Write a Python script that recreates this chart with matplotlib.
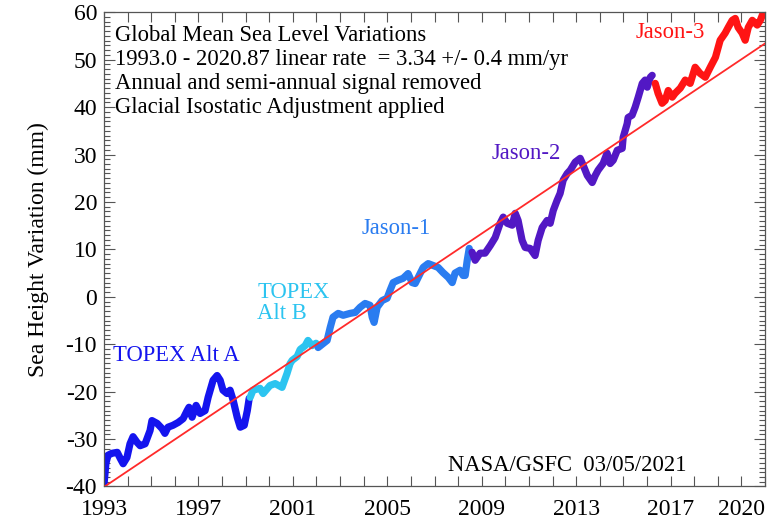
"""Global mean sea level variations by altimetry mission."""

import matplotlib.pyplot as plt
from matplotlib.ticker import MultipleLocator

plt.rcParams["font.family"] = ["Liberation Serif", "DejaVu Serif"]
plt.rcParams["axes.unicode_minus"] = False

# decimal year / sea height (mm) per mission
topex_a_t = [1993.00, 1993.08, 1993.17, 1993.34, 1993.56, 1993.69, 1993.81, 1993.97,
             1994.10, 1994.23, 1994.40, 1994.53, 1994.74, 1994.95, 1995.03, 1995.25,
             1995.46, 1995.58, 1995.71, 1995.92, 1996.14, 1996.35, 1996.52, 1996.60,
             1996.73, 1996.90, 1997.07, 1997.28, 1997.41, 1997.62, 1997.79, 1997.92,
             1998.04, 1998.21, 1998.34, 1998.47, 1998.64, 1998.77, 1998.94, 1999.07,
             1999.15]
topex_a_h = [-39.5, -35.1, -33.4, -33.0, -32.8, -34.1, -35.2, -33.9,
             -31.0, -29.5, -30.7, -31.4, -31.0, -28.2, -26.1, -26.7,
             -27.8, -28.8, -27.5, -27.1, -26.5, -25.7, -24.0, -23.3,
             -25.4, -22.9, -24.6, -24.0, -21.2, -17.6, -16.6, -17.6,
             -19.7, -20.4, -19.7, -21.8, -25.4, -27.5, -27.1, -24.0,
             -21.4]

topex_b_t = [1999.19, 1999.31, 1999.61, 1999.74, 2000.03, 2000.25, 2000.54, 2000.75,
             2000.88, 2000.97, 2001.18, 2001.31, 2001.52, 2001.64, 2001.81, 2001.98]
topex_b_h = [-21.2, -19.7, -19.3, -20.4, -18.7, -18.3, -19.1, -16.2,
             -14.1, -13.4, -12.6, -11.1, -10.3, -9.2, -10.3, -9.8]

jason1_t = [2002.07, 2002.45, 2002.58, 2002.70, 2002.92, 2003.13, 2003.42, 2003.64,
            2003.85, 2004.06, 2004.27, 2004.36, 2004.44, 2004.57, 2004.78, 2004.99,
            2005.12, 2005.25, 2005.46, 2005.67, 2005.88, 2006.05, 2006.18, 2006.39,
            2006.52, 2006.73, 2006.94, 2007.15, 2007.36, 2007.58, 2007.75, 2007.87,
            2008.08, 2008.21, 2008.30, 2008.38, 2008.47]
jason1_h = [-10.7, -9.2, -6.5, -4.3, -3.5, -3.9, -3.5, -3.3,
            -2.2, -1.4, -1.8, -4.3, -5.4, -2.2, -0.8, -0.3,
            1.4, 3.0, 3.5, 3.9, 4.9, 3.0, 2.8, 4.9,
            6.2, 7.0, 6.6, 6.2, 5.1, 4.1, 3.0, 5.0,
            5.6, 4.5, 4.5, 7.5, 10.2]

jason2_t = [2008.59, 2008.72, 2008.93, 2009.14, 2009.36, 2009.57, 2009.78, 2009.91,
            2010.08, 2010.29, 2010.42, 2010.54, 2010.71, 2010.84, 2011.05, 2011.26,
            2011.39, 2011.56, 2011.77, 2011.90, 2012.03, 2012.19, 2012.32, 2012.45,
            2012.62, 2012.75, 2012.96, 2013.17, 2013.30, 2013.47, 2013.68, 2013.81,
            2013.93, 2014.14, 2014.31, 2014.44, 2014.57, 2014.74, 2014.95, 2014.99,
            2015.16, 2015.20, 2015.37, 2015.50, 2015.63, 2015.80, 2015.92, 2016.01,
            2016.14, 2016.22]
jason2_h = [9.4, 7.7, 9.2, 9.2, 10.8, 12.5, 15.5, 16.8,
            15.5, 15.1, 17.6, 16.1, 11.9, 10.4, 10.2, 8.7,
            11.9, 14.6, 16.1, 15.5, 18.2, 20.3, 21.8, 24.6,
            26.0, 26.7, 28.4, 29.2, 27.7, 25.6, 24.1, 25.6,
            26.7, 28.1, 30.3, 28.1, 28.8, 30.9, 31.3, 33.6,
            36.5, 37.8, 38.3, 40.0, 42.1, 45.0, 45.7, 44.2,
            46.3, 46.7]

jason3_t = [2016.35, 2016.47, 2016.64, 2016.77, 2016.90, 2017.07, 2017.19, 2017.41,
            2017.62, 2017.83, 2018.04, 2018.25, 2018.47, 2018.68, 2018.90, 2019.10,
            2019.31, 2019.44, 2019.61, 2019.74, 2019.86, 2020.03, 2020.16, 2020.29,
            2020.46, 2020.67, 2020.80, 2020.92]
jason3_h = [45.0, 42.9, 40.8, 41.4, 43.5, 42.1, 42.9, 44.0,
            45.7, 45.0, 48.4, 47.1, 46.3, 48.4, 50.5, 54.1,
            55.6, 56.8, 58.3, 58.7, 56.8, 55.6, 54.1, 56.8,
            58.3, 57.3, 58.3, 59.8]

trend_start, trend_end = 1993.0, 2021.0
trend_rate = 3.34   # mm/yr
trend_offset = -40.1

year_labels = [1993, 1997, 2001, 2005, 2009, 2013, 2017, 2020]

missions = [
    (topex_a_t, topex_a_h, "#1414ee"),
    (topex_b_t, topex_b_h, "#2cc4f0"),
    (jason1_t, jason1_h, "#2a7cf0"),
    (jason2_t, jason2_h, "#5218c4"),
    (jason3_t, jason3_h, "#ff1414"),
]

fig = plt.figure(figsize=(7.74, 5.24), dpi=100)
ax = fig.add_axes([0.1344, 0.0716, 0.854, 0.905])

for t, h, color in missions:
    ax.plot(t, h, color=color, linewidth=5.2, solid_capstyle="round",
            solid_joinstyle="round", zorder=2)

trend_x = [trend_start, trend_end]
trend_y = [trend_offset, trend_offset + trend_rate * (trend_end - trend_start)]
ax.plot(trend_x, trend_y, color="#ff2a2a", linewidth=1.3, zorder=3)

ax.set_xlim(1993, 2021)
ax.set_ylim(-40, 60)
ax.set_xticks(year_labels)
ax.set_xticklabels([str(y) for y in year_labels])
ax.xaxis.set_minor_locator(MultipleLocator(1))
ax.yaxis.set_major_locator(MultipleLocator(10))
ax.yaxis.set_minor_locator(MultipleLocator(1))
ax.tick_params(which="both", direction="in", top=True, right=True,
               color="#555555", width=0.8, labelsize=17)
ax.tick_params(axis="x", which="both", length=7, pad=9)
ax.tick_params(axis="y", which="major", length=8, pad=5)
ax.tick_params(axis="y", which="minor", length=4)
for spine in ax.spines.values():
    spine.set_color("#555555")
    spine.set_linewidth(0.9)

ax.set_ylabel("Sea Height Variation (mm)", fontsize=17, labelpad=12)

header = ["Global Mean Sea Level Variations",
          "1993.0 - 2020.87 linear rate  = 3.34 +/- 0.4 mm/yr",
          "Annual and semi-annual signal removed",
          "Glacial Isostatic Adjustment applied"]
for i, line in enumerate(header):
    ax.text(1993.45, 55 - 5 * i, line, fontsize=16.3, va="center", ha="left")

ax.text(1993.4, -12.4, "TOPEX Alt A", color="#1414ee", fontsize=16.3, va="center")
ax.text(1999.5, -1.3, "TOPEX\nAlt B", color="#2cc4f0", fontsize=16.3, va="center",
        linespacing=0.95)
ax.text(2003.9, 14.4, "Jason-1", color="#2a7cf0", fontsize=16.3, va="center")
ax.text(2009.4, 30.3, "Jason-2", color="#5218c4", fontsize=16.3, va="center")
ax.text(2015.5, 55.8, "Jason-3", color="#ff1414", fontsize=16.3, va="center")
ax.text(2007.55, -35.6, "NASA/GSFC  03/05/2021", fontsize=16.3, va="center")

fig.savefig("out.png", dpi=100)
plt.close(fig)
